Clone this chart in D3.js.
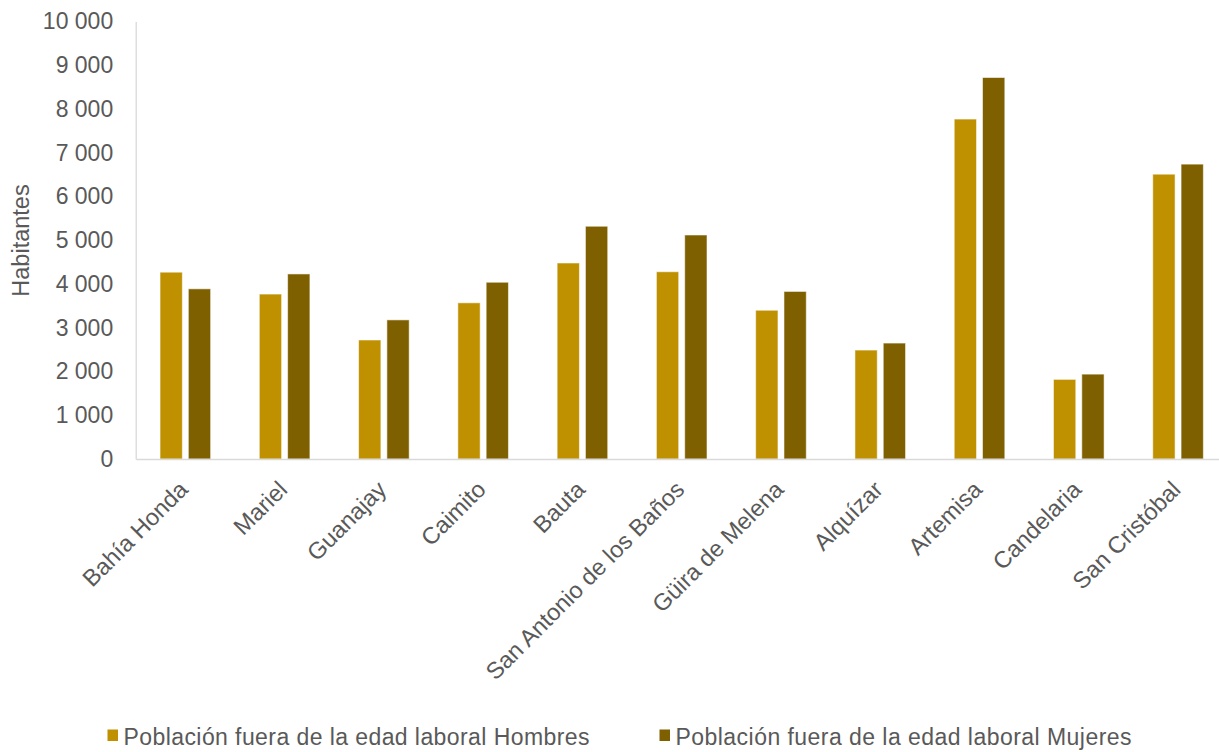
<!DOCTYPE html>
<html><head><meta charset="utf-8">
<script src="https://cdn.jsdelivr.net/npm/d3@7"></script>
<style>html,body{margin:0;padding:0;background:#fff;}svg{display:block;}</style>
</head><body>
<svg id="chart" width="1219" height="752"></svg>
<script>
const categories = ["Bahía Honda","Mariel","Guanajay","Caimito","Bauta","San Antonio de los Baños","Güira de Melena","Alquízar","Artemisa","Candelaria","San Cristóbal"];
const seriesNames = ["Población fuera de la edad laboral Hombres","Población fuera de la edad laboral Mujeres"];
const hombres = [4270,3770,2720,3570,4480,4280,3400,2490,7770,1820,6510];
const mujeres = [3890,4230,3180,4040,5320,5120,3830,2650,8720,1940,6740];
const yTicks = [0,1000,2000,3000,4000,5000,6000,7000,8000,9000,10000];
const colors = ["#BF9000","#7F6000"];

(function () {
const svg = d3.select("#chart");
const font = "Arial, 'Liberation Sans', sans-serif";
const textColor = "#595959";
const mLeft = 135.7, mRight = 1227.7, mTop = 21.5, mBottom = 459;

const x0 = d3.scaleBand().domain(categories).range([mLeft, mRight]).padding(0);
const groupW = 50.6;
const x1 = d3.scaleBand().domain(seriesNames).range([0, groupW]).paddingInner(0.212).paddingOuter(0);
const y = d3.scaleLinear().domain([0, 10000]).range([mBottom, mTop]);

const fmt = v => d3.format(",")(v).replace(/,/g, " ");

// y axis
const yAxis = svg.append("g").attr("transform", `translate(${mLeft},0)`)
  .call(d3.axisLeft(y).tickValues(yTicks).tickSize(0).tickPadding(22.5).tickFormat(fmt));
yAxis.select(".domain").attr("stroke", "#d9d9d9").attr("stroke-width", 1.3);
yAxis.selectAll("text").attr("fill", textColor).style("font-family", font).style("font-size", "23px");

// bars
const data = categories.map((c, i) => ({cat: c, vals: [hombres[i], mujeres[i]]}));
const groups = svg.append("g").selectAll("g").data(data).join("g")
  .attr("transform", d => `translate(${x0(d.cat) + (x0.bandwidth() - groupW) / 2},0)`);
groups.selectAll("rect").data(d => d.vals.map((v, k) => ({s: seriesNames[k], v, k})))
  .join("rect")
  .attr("x", d => x1(d.s))
  .attr("width", x1.bandwidth())
  .attr("y", d => y(d.v))
  .attr("height", d => mBottom - y(d.v))
  .attr("fill", d => colors[d.k])
  .attr("stroke", "rgba(255,255,255,0.55)")
  .attr("stroke-width", 1);

// x axis
const xAxis = svg.append("g").attr("transform", `translate(0,${mBottom})`)
  .call(d3.axisBottom(x0).tickSize(0).tickPadding(0));
xAxis.select(".domain").attr("stroke", "#d9d9d9").attr("stroke-width", 1.3);
xAxis.selectAll("text")
  .attr("fill", textColor).style("font-family", font).style("font-size", "23.5px")
  .attr("text-anchor", "end")
  .attr("dy", "0")
  .attr("transform", "translate(4,32) rotate(-45)");

// y axis title
svg.append("text")
  .attr("transform", `translate(29,${(184 + 297) / 2}) rotate(-90)`)
  .attr("text-anchor", "middle")
  .attr("fill", textColor).style("font-family", font).style("font-size", "23.5px")
  .text("Habitantes");

// legend
const legendX = [107.5, 659.5];
const legendLen = [466, 456];
const leg = svg.append("g").selectAll("g").data(seriesNames).join("g")
  .attr("transform", (d, i) => `translate(${legendX[i]},729.5)`);
leg.append("rect").attr("width", 10.5).attr("height", 11.5).attr("fill", (d, i) => colors[i]);
leg.append("text").attr("x", 16).attr("y", 15)
  .attr("fill", textColor).style("font-family", font).style("font-size", "23px")
  .attr("textLength", (d, i) => legendLen[i]).attr("lengthAdjust", "spacing")
  .text(d => d);
})();
</script>
</body></html>
